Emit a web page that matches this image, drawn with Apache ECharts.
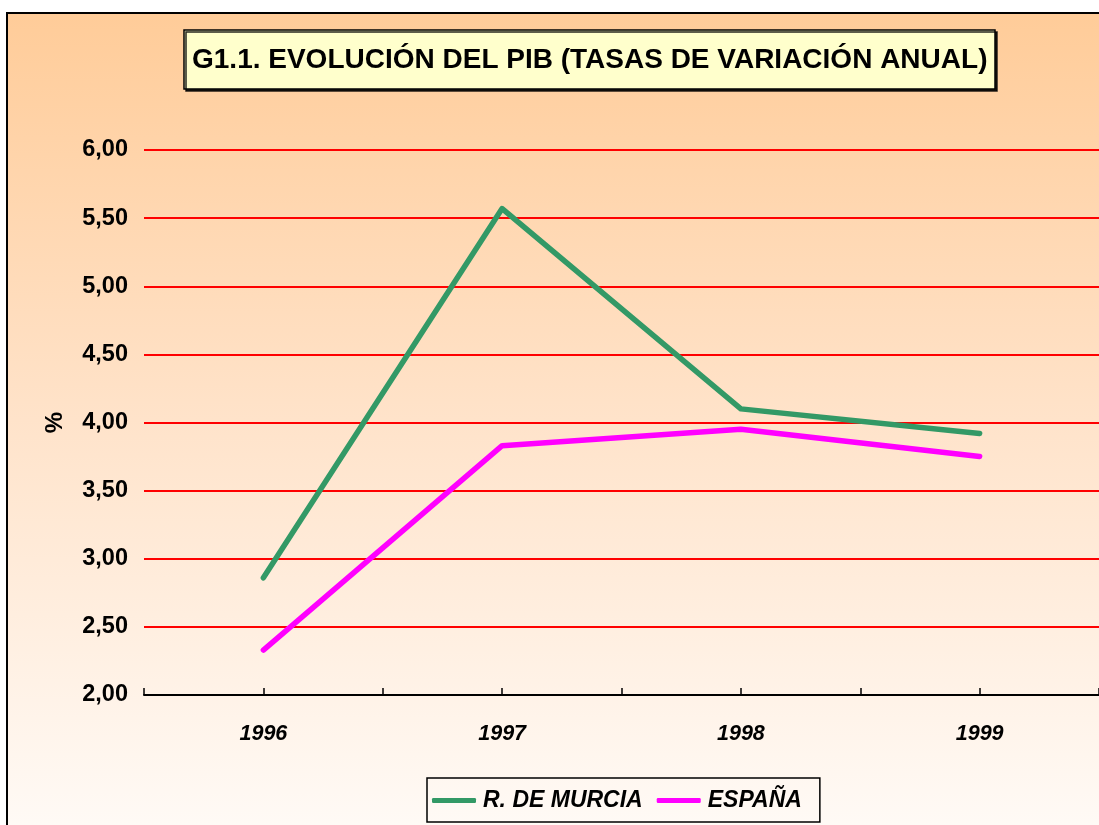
<!DOCTYPE html>
<html>
<head>
<meta charset="utf-8">
<script src="https://cdn.jsdelivr.net/npm/echarts@6/dist/echarts.min.js"></script>
<style>
  html, body { margin: 0; padding: 0; background: #ffffff; overflow: hidden; }
  #frame {
    position: absolute; left: 6px; top: 12px; width: 1200px; height: 900px;
    border-left: 2px solid #000; border-top: 2px solid #000;
    background: linear-gradient(to bottom, #FFCC99 0%, #FFE3CA 45%, #FFFFFF 100%);
  }
  #chart { position: absolute; left: 0; top: 0; width: 1099px; height: 825px; }
</style>
</head>
<body>
<div id="frame"></div>
<div id="chart"></div>
<script>
const titleText = 'G1.1. EVOLUCIÓN DEL PIB (TASAS DE VARIACIÓN ANUAL)';
const categories = ['1996', '1997', '1998', '1999'];
const murcia = [2.86, 5.57, 4.10, 3.92];
const espana = [2.33, 3.83, 3.95, 3.75];
const seriesNames = ['R. DE MURCIA', 'ESPAÑA'];
const yAxisName = '%';

const chart = echarts.init(document.getElementById('chart'), null, { renderer: 'canvas' });
const font = '"Liberation Sans", Arial, sans-serif';

chart.setOption({
  backgroundColor: 'transparent',
  animation: false,
  title: {
    text: titleText,
    left: 184,
    top: 30,
    backgroundColor: '#FFFFCC',
    borderColor: '#000',
    borderWidth: 1.5,
    padding: [12, 8, 11, 8],
    shadowColor: 'rgba(0,0,0,0.85)',
    shadowOffsetX: 2,
    shadowOffsetY: 2,
    shadowBlur: 0,
    textStyle: { fontFamily: font, fontSize: 28, fontWeight: 'bold', color: '#000', lineHeight: 36 }
  },
  legend: {
    left: 427,
    top: 778,
    data: seriesNames,
    orient: 'horizontal',
    borderColor: '#000',
    borderWidth: 1.5,
    padding: [11, 18, 10, 5],
    itemGap: 14,
    itemWidth: 44,
    itemHeight: 5,
    icon: 'roundRect',
    textStyle: { fontFamily: font, fontSize: 23, fontWeight: 'bold', fontStyle: 'italic', color: '#000', padding: [0, 0, 0, 2] }
  },
  grid: { left: 144, right: 0, top: 150, bottom: 130, containLabel: false },
  xAxis: [
    {
      type: 'category',
      data: categories,
      position: 'bottom',
      boundaryGap: true,
      axisLine: { show: true, lineStyle: { color: '#000', width: 2 } },
      axisTick: { show: true, inside: true, length: 7, lineStyle: { color: '#000', width: 1.5 } },
      axisLabel: { margin: 28, fontFamily: font, fontSize: 21.5, fontWeight: 'bold', fontStyle: 'italic', color: '#000' },
      splitLine: { show: false }
    },
    {
      type: 'category',
      data: categories,
      position: 'bottom',
      boundaryGap: true,
      axisLine: { show: false },
      axisTick: { show: true, inside: true, alignWithLabel: true, length: 7, lineStyle: { color: '#000', width: 1.5 } },
      axisLabel: { show: false },
      splitLine: { show: false }
    }
  ],
  yAxis: {
    type: 'value',
    min: 2,
    max: 6,
    interval: 0.5,
    name: yAxisName,
    nameLocation: 'middle',
    nameRotate: 90,
    nameGap: 77,
    nameTextStyle: { fontFamily: font, fontSize: 24, fontWeight: 'bold', color: '#000' },
    axisLine: { show: false },
    axisTick: { show: false },
    axisLabel: {
      margin: 16,
      fontFamily: font, fontSize: 23.5, fontWeight: 'bold', color: '#000',
      formatter: v => v.toFixed(2).replace('.', ',')
    },
    splitLine: { show: true, lineStyle: { color: '#FF0000', width: 2 } }
  },
  series: [
    {
      name: seriesNames[0],
      type: 'line',
      data: murcia,
      symbol: 'none',
      smooth: false,
      color: '#339966',
      lineStyle: { color: '#339966', width: 5.5, cap: 'round', join: 'round' },
      z: 3
    },
    {
      name: seriesNames[1],
      type: 'line',
      data: espana,
      symbol: 'none',
      smooth: false,
      color: '#FF00FF',
      lineStyle: { color: '#FF00FF', width: 5.5, cap: 'round', join: 'round' },
      z: 3
    }
  ]
});
</script>
</body>
</html>
